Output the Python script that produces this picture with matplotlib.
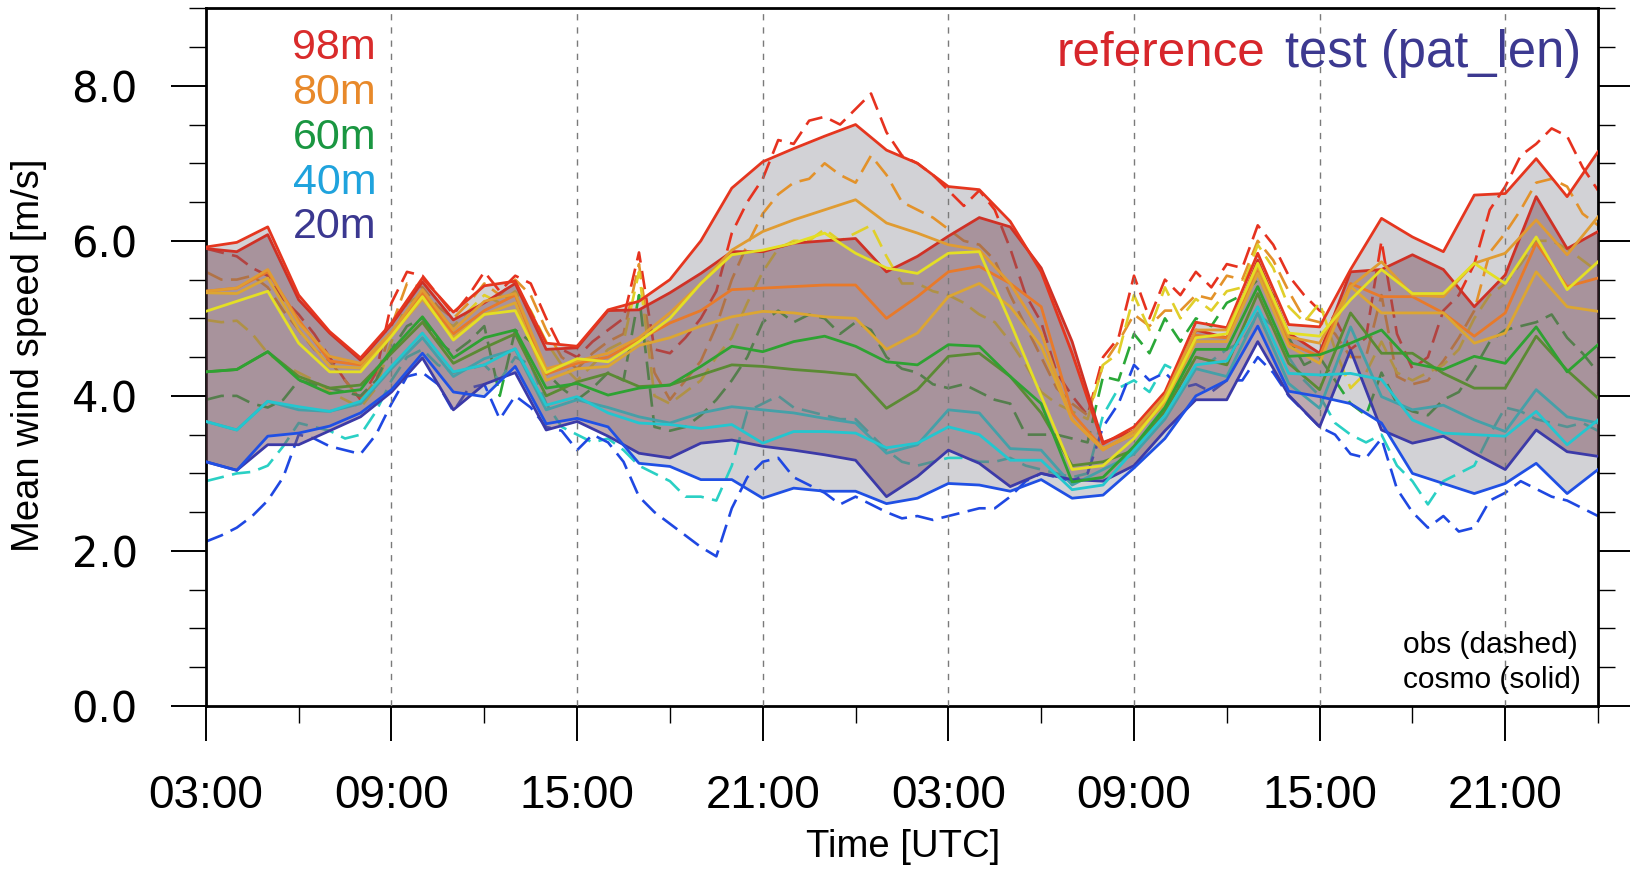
import numpy as np
import matplotlib
matplotlib.use("Agg")
import matplotlib.pyplot as plt
from matplotlib import font_manager as fm
from matplotlib.ticker import MultipleLocator

# hours since 03:00 UTC of day 1; cosmo output hourly, mast obs every 30 min
hours = np.arange(46)
obs_hours = np.arange(91) * 0.5

tick_hours = [0, 6, 12, 18, 24, 30, 36, 42]
tick_labels = ["03:00", "09:00", "15:00", "21:00", "03:00", "09:00", "15:00", "21:00"]

# --- reference run (cosmo) ---
ref_98m = [5.92, 5.98, 6.18, 5.30, 4.83, 4.49, 4.94, 5.52, 5.08, 5.42, 5.48, 4.68,
           4.64, 5.11, 5.22, 5.50, 6.00, 6.68, 7.02, 7.19, 7.35, 7.50, 7.17, 7.00,
           6.70, 6.66, 6.25, 5.60, 4.55, 3.38, 3.60, 4.05, 4.95, 4.88, 5.84, 4.92,
           4.89, 5.63, 6.29, 6.05, 5.86, 6.59, 6.61, 7.06, 6.57, 7.15]
ref_80m = [5.35, 5.39, 5.63, 4.94, 4.51, 4.42, 4.82, 5.37, 4.85, 5.22, 5.32, 4.35,
           4.45, 4.55, 4.75, 5.07, 5.45, 5.88, 6.12, 6.27, 6.40, 6.53, 6.23, 6.10,
           5.95, 5.88, 5.45, 4.81, 3.69, 3.30, 3.55, 4.00, 4.85, 4.85, 5.67, 4.76,
           4.68, 5.41, 5.73, 5.30, 5.28, 5.71, 5.84, 6.27, 5.82, 6.31]
ref_60m = [5.09, 5.22, 5.35, 4.68, 4.31, 4.31, 4.77, 5.28, 4.72, 5.05, 5.10, 4.30,
           4.48, 4.44, 4.70, 5.00, 5.45, 5.82, 5.88, 5.97, 6.10, 5.84, 5.65, 5.58,
           5.84, 5.86, 4.95, 4.00, 3.05, 3.10, 3.45, 3.95, 4.75, 4.80, 5.71, 4.81,
           4.77, 5.24, 5.63, 5.32, 5.32, 5.71, 5.45, 6.05, 5.37, 5.73]
ref_40m = [4.31, 4.34, 4.57, 4.21, 4.03, 4.08, 4.59, 5.02, 4.49, 4.75, 4.85, 4.10,
           4.16, 4.01, 4.10, 4.14, 4.38, 4.64, 4.57, 4.70, 4.77, 4.64, 4.44, 4.40,
           4.66, 4.64, 4.25, 3.90, 2.89, 2.95, 3.35, 3.85, 4.60, 4.60, 5.41, 4.51,
           4.53, 4.68, 4.85, 4.42, 4.34, 4.51, 4.42, 4.89, 4.31, 4.66]
ref_20m = [3.67, 3.56, 3.93, 3.86, 3.80, 3.93, 4.38, 4.81, 4.31, 4.40, 4.61, 3.88,
           3.99, 3.78, 3.65, 3.63, 3.58, 3.63, 3.39, 3.54, 3.54, 3.52, 3.33, 3.39,
           3.60, 3.50, 3.17, 3.17, 2.79, 2.85, 3.30, 3.75, 4.40, 4.45, 5.15, 4.29,
           4.27, 4.29, 4.21, 3.69, 3.52, 3.50, 3.48, 3.80, 3.37, 3.69]
ref_10m = [3.15, 3.04, 3.48, 3.52, 3.61, 3.78, 4.08, 4.55, 4.05, 3.99, 4.38, 3.64,
           3.71, 3.60, 3.13, 3.09, 2.92, 2.92, 2.68, 2.81, 2.77, 2.77, 2.61, 2.68,
           2.87, 2.85, 2.77, 2.92, 2.68, 2.72, 3.07, 3.45, 4.00, 4.20, 4.90, 4.06,
           3.99, 3.90, 3.65, 3.00, 2.87, 2.74, 2.87, 3.13, 2.74, 3.05]

# --- test run (pat_len) ---
test_98m = [5.90, 5.86, 6.08, 5.24, 4.81, 4.46, 4.92, 5.47, 4.98, 5.20, 5.45, 4.60,
            4.62, 5.10, 5.11, 5.33, 5.58, 5.86, 5.86, 5.97, 6.00, 6.03, 5.60, 5.80,
            6.06, 6.30, 6.18, 5.65, 4.70, 3.40, 3.55, 4.00, 4.85, 4.75, 5.75, 4.81,
            4.55, 5.60, 5.63, 5.82, 5.63, 5.15, 5.56, 6.57, 5.90, 6.12]
test_80m = [5.35, 5.39, 5.60, 4.98, 4.45, 4.40, 4.80, 5.33, 4.80, 5.10, 5.30, 4.28,
            4.42, 4.50, 4.72, 4.94, 5.10, 5.37, 5.39, 5.41, 5.43, 5.43, 5.00, 5.28,
            5.60, 5.67, 5.45, 5.15, 3.78, 3.32, 3.50, 3.95, 4.78, 4.75, 5.63, 4.68,
            4.51, 5.45, 5.28, 5.28, 5.07, 4.77, 5.07, 5.97, 5.41, 5.52]
test_60m = [5.33, 5.32, 5.52, 4.85, 4.38, 4.36, 4.78, 5.25, 4.75, 5.05, 5.20, 4.20,
            4.35, 4.38, 4.65, 4.75, 4.90, 5.02, 5.09, 5.07, 5.02, 5.00, 4.60, 4.81,
            5.28, 5.45, 5.15, 4.64, 3.69, 3.32, 3.50, 3.90, 4.70, 4.70, 5.58, 4.64,
            4.42, 5.41, 5.07, 5.07, 5.07, 4.68, 4.81, 5.60, 5.15, 5.09]
test_40m = [4.31, 4.34, 4.57, 4.25, 4.10, 4.14, 4.55, 4.95, 4.42, 4.62, 4.80, 4.00,
            4.18, 4.29, 4.12, 4.14, 4.27, 4.40, 4.38, 4.34, 4.31, 4.27, 3.84, 4.08,
            4.51, 4.55, 4.25, 3.78, 3.10, 3.15, 3.30, 3.80, 4.50, 4.40, 5.32, 4.42,
            4.08, 5.07, 4.55, 4.55, 4.29, 4.10, 4.10, 4.77, 4.33, 3.97]
test_20m = [3.67, 3.56, 3.93, 3.82, 3.80, 3.90, 4.35, 4.75, 4.25, 4.48, 4.60, 3.82,
            3.95, 3.85, 3.73, 3.65, 3.78, 3.86, 3.82, 3.78, 3.71, 3.65, 3.26, 3.37,
            3.82, 3.78, 3.32, 3.30, 2.85, 3.05, 3.25, 3.70, 4.35, 4.25, 5.07, 4.16,
            3.84, 4.89, 3.99, 3.82, 3.88, 3.69, 3.54, 4.08, 3.73, 3.65]
test_10m = [3.15, 3.04, 3.37, 3.37, 3.55, 3.73, 4.05, 4.49, 3.82, 4.15, 4.30, 3.56,
            3.67, 3.48, 3.26, 3.20, 3.39, 3.43, 3.35, 3.30, 3.24, 3.17, 2.70, 2.96,
            3.30, 3.13, 2.83, 3.00, 2.92, 2.90, 3.10, 3.55, 3.95, 3.95, 4.70, 4.01,
            3.60, 4.59, 3.56, 3.39, 3.48, 3.26, 3.05, 3.56, 3.28, 3.22]

# --- mast observations ---
obs_98m = [5.90, 5.85, 5.80, 5.65, 5.55, 5.25, 5.05, 4.80, 4.50, 4.20, 3.95, 4.30,
           5.20, 5.60, 5.55, 5.30, 5.05, 5.30, 5.60, 5.35, 5.55, 5.45, 5.00, 4.60,
           4.50, 4.70, 4.85, 5.00, 5.85, 4.60, 4.55, 4.75, 5.00, 5.35, 6.10, 6.50,
           6.80, 7.30, 7.25, 7.55, 7.60, 7.50, 7.70, 7.90, 7.40, 7.10, 7.00, 6.85,
           6.65, 6.45, 6.65, 6.40, 5.90, 5.30, 4.95, 4.30, 4.00, 3.75, 4.50, 4.75,
           5.55, 5.00, 5.50, 5.30, 5.60, 5.40, 5.70, 5.65, 6.20, 5.95, 5.55, 5.30,
           5.10, 5.00, 4.60, 4.75, 6.00, 4.80, 4.35, 4.50, 5.10, 5.30, 5.70, 6.40,
           6.70, 7.10, 7.25, 7.45, 7.35, 6.95, 6.65]
obs_80m = [5.60, 5.50, 5.50, 5.55, 5.40, 5.10, 4.85, 4.60, 4.45, 4.20, 3.95, 4.20,
           4.90, 5.45, 5.40, 5.15, 5.00, 5.20, 5.45, 5.30, 5.50, 5.30, 4.85, 4.50,
           4.35, 4.55, 4.70, 4.80, 5.70, 4.30, 3.95, 4.20, 4.45, 4.90, 5.50, 5.95,
           6.35, 6.60, 6.75, 6.80, 7.00, 6.85, 6.75, 7.10, 6.85, 6.50, 6.40, 6.30,
           6.15, 6.00, 5.95, 5.75, 5.30, 4.90, 4.50, 4.10, 3.90, 3.75, 4.40, 4.70,
           5.05, 4.90, 5.10, 5.10, 5.30, 5.25, 5.55, 5.50, 6.00, 5.75, 5.35, 5.00,
           4.95, 4.80, 4.50, 4.50, 5.30, 4.25, 4.15, 4.20, 4.45, 4.75, 5.10, 5.85,
           6.10, 6.40, 6.75, 6.80, 6.70, 6.35, 6.20]
obs_60m = [4.98, 4.95, 4.97, 4.80, 4.55, 4.40, 4.30, 4.20, 4.05, 3.95, 3.85, 4.10,
           4.70, 5.20, 5.30, 5.00, 4.90, 5.10, 5.30, 5.20, 5.35, 5.10, 4.70, 4.40,
           4.20, 4.40, 4.60, 4.70, 5.60, 4.00, 3.90, 4.05, 4.20, 4.50, 4.75, 5.20,
           5.60, 5.90, 6.00, 6.00, 6.15, 6.00, 6.10, 6.20, 5.80, 5.45, 5.45, 5.35,
           5.30, 5.20, 5.05, 4.95, 4.70, 4.40, 4.05, 3.90, 3.80, 3.70, 4.40, 4.55,
           5.30, 4.85, 5.40, 5.00, 5.25, 5.10, 5.35, 5.40, 5.95, 5.65, 5.15, 4.95,
           5.20, 4.60, 4.10, 4.30, 4.70, 4.30, 4.20, 4.30, 4.40, 4.60, 5.00, 5.30,
           5.45, 5.70, 6.00, 6.00, 5.90, 5.75, 5.60]
obs_40m = [3.95, 4.00, 4.00, 3.90, 3.85, 3.95, 4.20, 4.15, 4.10, 4.05, 4.00, 4.20,
           4.60, 4.90, 5.00, 4.70, 4.55, 4.70, 4.90, 4.00, 4.85, 4.70, 4.30, 4.10,
           3.95, 4.10, 4.30, 4.20, 5.30, 3.60, 3.55, 3.60, 3.75, 3.95, 4.20, 4.50,
           4.95, 5.10, 4.95, 5.05, 5.00, 4.80, 4.95, 4.85, 4.50, 4.35, 4.30, 4.15,
           4.10, 4.15, 4.05, 3.95, 3.90, 3.50, 3.50, 3.50, 3.45, 3.40, 4.25, 4.20,
           4.80, 4.55, 5.00, 4.70, 5.00, 4.90, 5.20, 5.30, 5.50, 5.30, 4.75, 4.40,
           4.50, 4.20, 3.90, 3.75, 4.30, 3.90, 3.80, 3.75, 3.95, 4.05, 4.35, 4.70,
           4.85, 4.90, 4.95, 5.05, 4.75, 4.55, 4.30]
obs_20m = [2.90, 2.95, 3.00, 3.02, 3.10, 3.35, 3.65, 3.60, 3.55, 3.45, 3.50, 3.80,
           4.20, 4.50, 4.60, 4.40, 4.30, 4.35, 4.40, 4.20, 4.50, 4.40, 3.90, 3.60,
           3.50, 3.40, 3.45, 3.30, 3.10, 3.00, 2.90, 2.70, 2.70, 2.65, 3.10, 3.80,
           3.90, 4.00, 3.85, 3.80, 3.75, 3.70, 3.70, 3.50, 3.30, 3.15, 3.10, 3.15,
           3.20, 3.20, 3.15, 3.15, 3.20, 3.10, 3.05, 3.00, 2.95, 3.00, 3.75, 4.10,
           4.20, 4.05, 4.40, 4.30, 4.50, 4.45, 4.60, 4.70, 5.05, 4.90, 4.50, 4.20,
           4.00, 3.65, 3.50, 3.40, 3.50, 3.10, 2.90, 2.60, 2.90, 3.00, 3.10, 3.50,
           3.85, 3.80, 3.70, 3.65, 3.60, 3.65, 3.55]
obs_10m = [2.12, 2.20, 2.30, 2.45, 2.65, 2.95, 3.50, 3.45, 3.35, 3.30, 3.25, 3.50,
           3.90, 4.25, 4.30, 4.15, 3.80, 4.10, 4.15, 3.70, 4.00, 3.85, 3.60, 3.55,
           3.30, 3.50, 3.40, 3.15, 2.70, 2.50, 2.35, 2.20, 2.05, 1.93, 2.55, 2.95,
           3.15, 3.20, 2.95, 2.85, 2.75, 2.60, 2.70, 2.60, 2.50, 2.42, 2.45, 2.40,
           2.45, 2.50, 2.55, 2.55, 2.70, 2.90, 3.00, 2.95, 2.90, 3.00, 3.60, 3.90,
           4.40, 4.20, 4.30, 4.10, 4.15, 4.05, 4.20, 4.20, 4.50, 4.30, 4.00, 3.80,
           3.60, 3.50, 3.25, 3.20, 3.45, 2.80, 2.50, 2.30, 2.45, 2.25, 2.30, 2.65,
           2.75, 2.90, 2.80, 2.70, 2.65, 2.55, 2.45]

ref_runs = [ref_98m, ref_80m, ref_60m, ref_40m, ref_20m, ref_10m]
test_runs = [test_98m, test_80m, test_60m, test_40m, test_20m, test_10m]
obs_runs = [obs_98m, obs_80m, obs_60m, obs_40m, obs_20m, obs_10m]

ref_colors = ["#e5361f", "#e09c32", "#e4df24", "#2ea232", "#24c6cf", "#2050e4"]
test_colors = ["#cf3126", "#e87a2a", "#dca632", "#5b8a34", "#45a0a8", "#3c3aa8"]
obs_colors = ["#e6321f", "#e3922a", "#e0cf2a", "#2aa838", "#2ad0c4", "#1f48e2"]

legend_heights = ["98m", "80m", "60m", "40m", "20m"]
legend_colors = ["#d92b2b", "#e8892a", "#1a9641", "#1fa3dd", "#3b3890"]

names = {f.name for f in fm.fontManager.ttflist}
sans = "Liberation Sans" if "Liberation Sans" in names else "DejaVu Sans"
if "Liberation Sans Narrow" in names:
    narrow, narrow_size = "Liberation Sans Narrow", 33
else:
    narrow, narrow_size = sans, 27.5

fig = plt.figure(figsize=(16.3, 8.69), dpi=100)
ax = fig.add_axes([0.1263, 0.1876, 0.8541, 0.8029])

# reference envelope, then obs, then the translucent test envelope over them
ax.fill_between(hours, ref_runs[0], ref_runs[-1], color="#d2d2d6", lw=0, zorder=1)
for vals, c in zip(obs_runs, obs_colors):
    ax.plot(obs_hours, vals, color=c, lw=1.9, ls=(0, (7, 3.2)), zorder=2)
ax.fill_between(hours, test_runs[0], test_runs[-1], color=(0.50, 0.335, 0.39),
                alpha=0.5, lw=0, zorder=3)

for x in tick_hours[1:]:
    ax.axvline(x, color="#7a7a7a", lw=1.0, ls=(0, (4.5, 5)), zorder=3.5)

for vals, c in zip(test_runs, test_colors):
    ax.plot(hours, vals, color=c, lw=2.0, zorder=4)
for vals, c in zip(ref_runs, ref_colors):
    ax.plot(hours, vals, color=c, lw=2.0, zorder=5)

ax.set_xlim(0, 45)
ax.set_ylim(0, 9)
ax.set_xticks(tick_hours)
ax.set_xticklabels(tick_labels, fontsize=33, family=sans)
ax.xaxis.set_minor_locator(MultipleLocator(3))
ax.yaxis.set_major_locator(MultipleLocator(2))
ax.yaxis.set_minor_locator(MultipleLocator(0.5))
ax.set_yticklabels([f"{v:.1f}" for v in ax.get_yticks()], fontsize=30, family="DejaVu Sans")
ax.tick_params(which="both", direction="out", top=False, right=True, left=True, bottom=True)
ax.tick_params(which="major", length=25, width=1.4, pad=24)
ax.tick_params(which="minor", length=12, width=1.0)
for s in ax.spines.values():
    s.set_linewidth(2.0)

fig.text(29 / 1630, 1 - 355 / 869, "Mean wind speed [m/s]", rotation=90,
         ha="center", va="center", fontsize=narrow_size, family=narrow)
fig.text(903 / 1630, 1 - 847 / 869, "Time [UTC]", ha="center", va="center",
         fontsize=narrow_size, family=narrow)

for i, (lab, c) in enumerate(zip(legend_heights, legend_colors)):
    ax.text(0.1223, 0.9434 - i * 0.0644, lab, color=c, fontsize=31, family=sans,
            ha="right", va="center", transform=ax.transAxes, zorder=6)

ax.text(0.761, 0.9345, "reference", color="#d7262b", fontsize=35.5, family=sans,
        ha="right", va="center", transform=ax.transAxes, zorder=6)
ax.text(0.9878, 0.9345, "test (pat_len)", color="#3c3990", fontsize=36.5, family=sans,
        ha="right", va="center", transform=ax.transAxes, zorder=6)

ax.text(0.8596, 0.0875, "obs (dashed)", color="black", fontsize=21.5, family=sans,
        ha="left", va="center", transform=ax.transAxes, zorder=6)
ax.text(0.8596, 0.0373, "cosmo (solid)", color="black", fontsize=21.5, family=sans,
        ha="left", va="center", transform=ax.transAxes, zorder=6)

fig.savefig("out.png", dpi=100, facecolor="white")
